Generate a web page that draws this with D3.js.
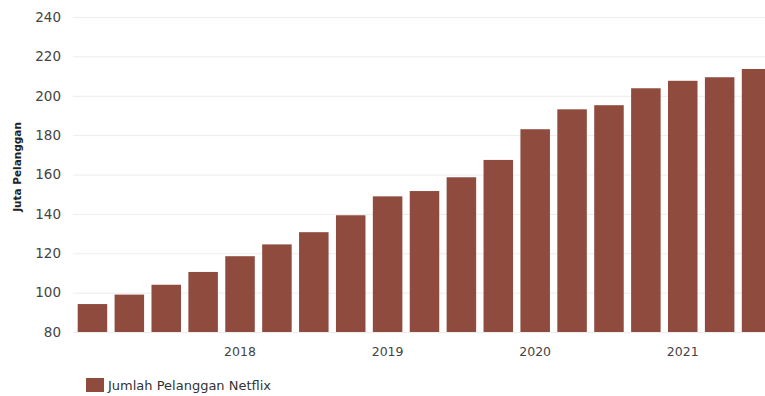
<!DOCTYPE html>
<html>
<head>
<meta charset="utf-8">
<script src="https://cdn.jsdelivr.net/npm/d3@7"></script>
<style>
  body { margin: 0; background: #fff; }
  svg { display: block; font-family: "DejaVu Sans", Verdana, sans-serif; }
</style>
</head>
<body>
<div id="chart"></div>
<script>
// quarterly subscribers (millions)
var quarters = ["2017-01", "2017-04", "2017-07", "2017-10",
  "2018-01", "2018-04", "2018-07", "2018-10",
  "2019-01", "2019-04", "2019-07", "2019-10",
  "2020-01", "2020-04", "2020-07", "2020-10",
  "2021-01", "2021-04", "2021-07"];
var subscribers = [94.2, 99, 104, 110.5, 118.5, 124.5, 130.7, 139.3,
  148.9, 151.6, 158.6, 167.4, 183, 193.1, 195.2, 203.8, 207.6, 209.4, 213.6];
var yTicks = [80, 100, 120, 140, 160, 180, 200, 220, 240];
var yearTicks = { "2018-01": "2018", "2019-01": "2019", "2020-01": "2020", "2021-01": "2021" };
var seriesName = "Jumlah Pelanggan Netflix";
var yTitle = "Juta Pelanggan";

var width = 765,
  height = 396;

var svg = d3.select("#chart").append("svg")
  .attr("width", width)
  .attr("height", height);

var x = d3.scaleBand()
  .domain(quarters)
  .range([74, 775])
  .paddingInner(0.2)
  .paddingOuter(0.1);

var y = d3.scaleLinear()
  .domain([80, 240])
  .range([332, 17]);

// gridlines
svg.append("g")
  .selectAll("line")
  .data(yTicks)
  .enter().append("line")
  .attr("x1", 73)
  .attr("x2", width)
  .attr("y1", function (d) { return y(d) + 0.5; })
  .attr("y2", function (d) { return y(d) + 0.5; })
  .attr("stroke", "#ececec")
  .attr("stroke-width", 1);

// y tick labels
svg.append("g")
  .selectAll("text")
  .data(yTicks)
  .enter().append("text")
  .attr("x", 61)
  .attr("y", function (d) { return y(d); })
  .attr("dy", "0.36em")
  .attr("text-anchor", "end")
  .attr("font-size", "13.5px")
  .attr("fill", "#444")
  .text(function (d) { return d; });

// y title
svg.append("text")
  .attr("transform", "translate(21,167) rotate(-90)")
  .attr("text-anchor", "middle")
  .attr("font-size", "10.5px")
  .attr("font-weight", "bold")
  .attr("fill", "#222")
  .text(yTitle);

// bars
svg.append("g")
  .selectAll("rect")
  .data(subscribers)
  .enter().append("rect")
  .attr("x", function (d, i) { return x(quarters[i]); })
  .attr("y", function (d) { return y(d); })
  .attr("width", x.bandwidth())
  .attr("height", function (d) { return y(80) - y(d); })
  .attr("fill", "#8f4c3e");

// x year labels
svg.append("g")
  .selectAll("text")
  .data(quarters.filter(function (q) { return yearTicks[q]; }))
  .enter().append("text")
  .attr("x", function (d) { return x(d) + x.bandwidth() / 2; })
  .attr("y", 351)
  .attr("dy", "0.36em")
  .attr("text-anchor", "middle")
  .attr("font-size", "12.5px")
  .attr("fill", "#444")
  .text(function (d) { return yearTicks[d]; });

// legend
var legend = svg.append("g").attr("transform", "translate(86,378)");
legend.append("rect")
  .attr("width", 18)
  .attr("height", 14)
  .attr("fill", "#8f4c3e");
legend.append("text")
  .attr("x", 22)
  .attr("y", 7.5)
  .attr("dy", "0.36em")
  .attr("font-size", "13px")
  .attr("fill", "#333")
  .text(seriesName);
</script>
</body>
</html>
